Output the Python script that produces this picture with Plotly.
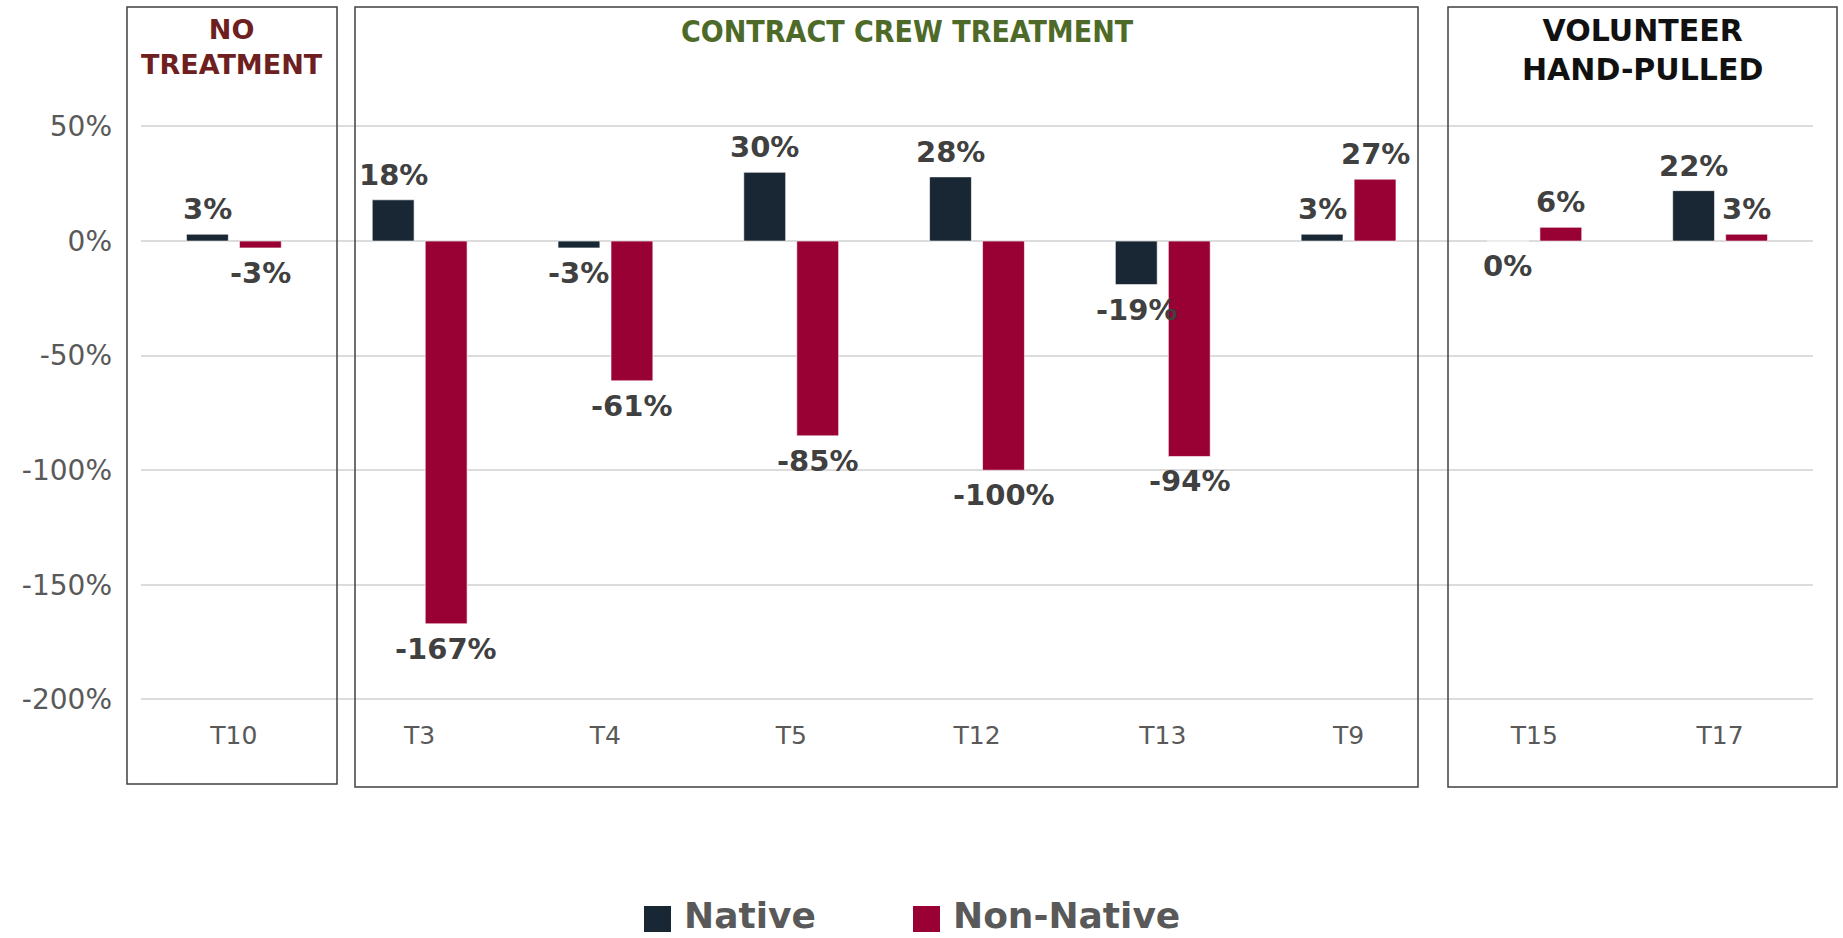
import plotly.graph_objects as go

categories = ["T10", "T3", "T4", "T5", "T12", "T13", "T9", "T15", "T17"]
native = [0.03, 0.18, -0.03, 0.30, 0.28, -0.19, 0.03, 0.00, 0.22]
non_native = [-0.03, -1.67, -0.61, -0.85, -1.00, -0.94, 0.27, 0.06, 0.03]
series_names = ["Native", "Non-Native"]
series_colors = ["#182733", "#990033"]
y_ticks = [0.5, 0.0, -0.5, -1.0, -1.5, -2.0]
y_tick_text = ["50%", "0%", "-50%", "-100%", "-150%", "-200%"]
group_titles = ["NO<br>TREATMENT", "CONTRACT CREW TREATMENT", "VOLUNTEER<br>HAND-PULLED"]

W_FIG, H_FIG = 1843, 938
PL, PR, PT, PB = 141, 1813, 115, 704


def px(x):
    return (x - PL) / (PR - PL)


def py(y):
    return (PB - y) / (PB - PT)


fig = go.Figure()
for name, vals, col in zip(series_names, [native, non_native], series_colors):
    fig.add_trace(go.Bar(
        x=categories, y=vals, name=name,
        marker=dict(color=col, line=dict(color="rgba(255,255,255,0.6)", width=1)),
        showlegend=False, hoverinfo="x+y",
    ))

# data labels
for vals, shift in [(native, -26.5), (non_native, 26.5)]:
    for c, v in zip(categories, vals):
        pos = v > 0
        fig.add_annotation(
            x=c, y=v, xref="x", yref="y", text=f"{round(v*100):d}%",
            showarrow=False, xshift=shift, yshift=6 if pos else -6,
            yanchor="bottom" if pos else "top", xanchor="center",
            font=dict(family="DejaVu Sans", size=29, color="#404040", weight="bold"),
        )

# group boxes
boxes = [(127, 7, 337, 784), (355, 7, 1418, 787), (1448, 7, 1837, 787)]
for x0, y0, x1, y1 in boxes:
    fig.add_shape(type="rect", xref="paper", yref="paper",
                  x0=px(x0), x1=px(x1), y0=py(y1), y1=py(y0),
                  line=dict(color="#404040", width=1.5), fillcolor="rgba(0,0,0,0)",
                  layer="above")

# group titles
title_specs = [
    (group_titles[0], 232, 47, "DejaVu Sans", 27, "#6e2020"),
    (group_titles[1], 907, 32, "DejaVu Sans Condensed", 30, "#4e6a28"),
    (group_titles[2], 1642, 50, "DejaVu Sans", 30, "#111111"),
]
for txt, cx, cy, fam, sz, col in title_specs:
    fig.add_annotation(x=px(cx), y=py(cy), xref="paper", yref="paper", text=txt,
                       showarrow=False, xanchor="center", yanchor="middle",
                       font=dict(family=fam, size=sz, color=col, weight="bold"))

# legend (manual)
legend_items = [(644, 671, 682), (913, 940, 951)]
for (sx0, sx1, tx), name, col in zip(legend_items, series_names, series_colors):
    fig.add_shape(type="rect", xref="paper", yref="paper",
                  x0=px(sx0), x1=px(sx1), y0=py(932), y1=py(906),
                  line=dict(width=0), fillcolor=col)
    fig.add_annotation(x=px(tx), y=py(915), xref="paper", yref="paper", text=name,
                       showarrow=False, xanchor="left", yanchor="middle",
                       font=dict(family="DejaVu Sans", size=36, color="#595959", weight="bold"))

fig.update_layout(
    width=W_FIG, height=H_FIG,
    margin=dict(l=PL, r=W_FIG - PR, t=PT, b=H_FIG - PB, autoexpand=False),
    paper_bgcolor="white", plot_bgcolor="white",
    barmode="group", bargap=0.4295, bargroupgap=0.21,
    showlegend=False,
    xaxis=dict(type="category", showgrid=False, showline=False, zeroline=False,
               ticks="", ticklabelstandoff=14,
               tickfont=dict(family="DejaVu Sans", size=25, color="#595959")),
    yaxis=dict(range=[-2.02, 0.55], tickvals=y_ticks, ticktext=y_tick_text,
               showgrid=True, gridcolor="#dcdcdc", gridwidth=1.5,
               zeroline=True, zerolinecolor="#dcdcdc", zerolinewidth=1.5,
               showline=False, ticks="", ticklabelstandoff=28,
               tickfont=dict(family="DejaVu Sans", size=28, color="#595959")),
)

fig.write_html(
    "out.html",
    config={"displayModeBar": False},
    post_script="document.body.style.margin='0';document.body.style.overflow='hidden';",
)
